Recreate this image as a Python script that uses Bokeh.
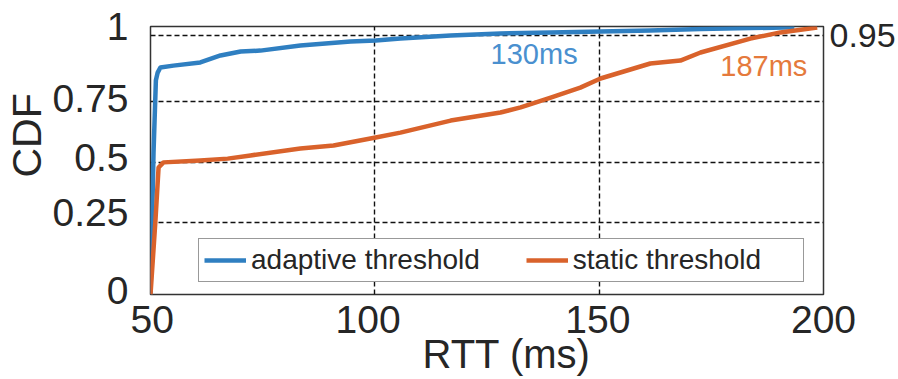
from bokeh.plotting import figure
from bokeh.models import Range1d, FixedTicker, Legend, LegendItem, LinearAxis, Title
from bokeh.core.properties import value
from bokeh.embed import file_html
from bokeh.resources import INLINE

# ---- data ----
adaptive_rtt = [50.0, 50.67, 51.2, 51.6, 52.2, 55.1, 61.1, 65.6, 70.1, 74.5, 83.4, 94.6,
                100.2, 105.7, 116.9, 128.0, 139.2, 150.3, 161.4, 172.6, 183.7, 193.5]
adaptive_cdf = [0.0, 0.526, 0.799, 0.828, 0.847, 0.854, 0.866, 0.892, 0.907, 0.910, 0.929, 0.944,
                0.948, 0.955, 0.966, 0.974, 0.978, 0.981, 0.985, 0.991, 0.994, 0.997]

static_rtt = [50.0, 51.1, 51.8, 52.9, 61.1, 67.2, 72.3, 83.4, 90.8, 100.2, 105.7, 116.9,
              128.0, 132.5, 139.2, 145.8, 150.3, 161.4, 168.1, 172.6, 183.7, 190.4, 198.6]
static_cdf = [0.0, 0.276, 0.474, 0.493, 0.500, 0.507, 0.519, 0.545, 0.556, 0.586, 0.604, 0.649,
              0.679, 0.698, 0.735, 0.772, 0.806, 0.862, 0.873, 0.903, 0.955, 0.978, 0.996]

series_names = ["adaptive threshold", "static threshold"]

x_label_pos = [50.4, 98.5, 149.7, 200.0]
x_tick_labels = ["50", "100", "150", "200"]
y_tick_pos = [0.015, 0.306, 0.511, 0.731, 1.0]
y_tick_labels = ["0", "0.25", "0.5", "0.75", "1"]
grid_x = [100, 150]
grid_y = [0.269, 0.4925, 0.720, 0.966]
p95_pos = [0.966]
p95_labels = ["0.95"]

x_title = "RTT (ms)"
y_title = "CDF"

ann_text = ["130ms", "187ms"]
ann_x = [125.8, 177.0]
ann_y = [0.896, 0.851]

# ---- styling ----
BLUE = "#2f7fc1"
ORANGE = "#d9622b"
BLUE_TXT = "#4a90cf"
ORANGE_TXT = "#e57a3c"
FONT = "Liberation Sans"
TXT = "#262626"

p = figure(width=898, height=379, x_range=Range1d(50, 200), y_range=Range1d(0, 1),
           output_backend="svg", toolbar_location=None,
           min_border_left=150, min_border_right=75, min_border_top=26, min_border_bottom=85)
p.background_fill_color = "white"
p.border_fill_color = "white"
p.outline_line_color = "#333333"
p.outline_line_width = 1.5

# grids
p.xgrid.ticker = FixedTicker(ticks=grid_x)
p.ygrid.ticker = FixedTicker(ticks=grid_y)
for g in (p.xgrid, p.ygrid):
    g.grid_line_color = "#111111"
    g.grid_line_dash = "5 3"
    g.grid_line_width = 1.4

# axes
xa = p.xaxis[0]
xa.ticker = FixedTicker(ticks=x_label_pos)
xa.major_label_overrides = {t: l for t, l in zip(x_label_pos, x_tick_labels)}
xa.major_label_standoff = 5

ya = p.yaxis[0]
ya.ticker = FixedTicker(ticks=y_tick_pos)
ya.major_label_overrides = {t: l for t, l in zip(y_tick_pos, y_tick_labels)}
ya.major_label_standoff = 16

ra = LinearAxis(ticker=FixedTicker(ticks=p95_pos),
                major_label_overrides={t: l for t, l in zip(p95_pos, p95_labels)})
ra.major_label_standoff = 0
p.add_layout(ra, "right")

for ax in (xa, ya, ra):
    ax.axis_line_color = None
    ax.major_tick_line_color = None
    ax.minor_tick_line_color = None
    ax.major_label_text_font = FONT
    ax.major_label_text_font_size = "39px"
    ax.major_label_text_color = TXT
ra.major_label_text_font_size = "34px"

# axis titles
tx = Title(text=x_title, align="left", offset=272, standoff=-12,
           text_font=FONT, text_font_size="40px", text_font_style="normal", text_color=TXT)
p.add_layout(tx, "below")
ty = Title(text=y_title, align="left", offset=117, standoff=0,
           text_font=FONT, text_font_size="41px", text_font_style="normal", text_color=TXT)
p.add_layout(ty, "left")

# lines
r1 = p.line(adaptive_rtt, adaptive_cdf, line_color=BLUE, line_width=4.5, line_join="round")
r2 = p.line(static_rtt, static_cdf, line_color=ORANGE, line_width=4.5, line_join="round")

# annotations
p.text(x=ann_x[:1], y=ann_y[:1], text=ann_text[:1], text_color=BLUE_TXT,
       text_font=value(FONT), text_font_size="29px", text_align="left", text_baseline="middle")
p.text(x=ann_x[1:], y=ann_y[1:], text=ann_text[1:], text_color=ORANGE_TXT,
       text_font=value(FONT), text_font_size="29px", text_align="left", text_baseline="middle")

legend = Legend(items=[LegendItem(label=series_names[0], renderers=[r1]),
                       LegendItem(label=series_names[1], renderers=[r2])],
                orientation="horizontal", location=(48, 12))
legend.label_text_font = FONT
legend.label_text_font_size = "28px"
legend.label_text_color = TXT
legend.glyph_width = 42
legend.glyph_height = 20
legend.label_standoff = 5
legend.padding = 5
legend.spacing = 46
legend.margin = 0
legend.label_width = 225
legend.border_line_color = "#333333"
legend.border_line_width = 1.5
legend.background_fill_alpha = 1.0
p.add_layout(legend, "center")

open("out.html", "w").write(file_html(p, INLINE))
